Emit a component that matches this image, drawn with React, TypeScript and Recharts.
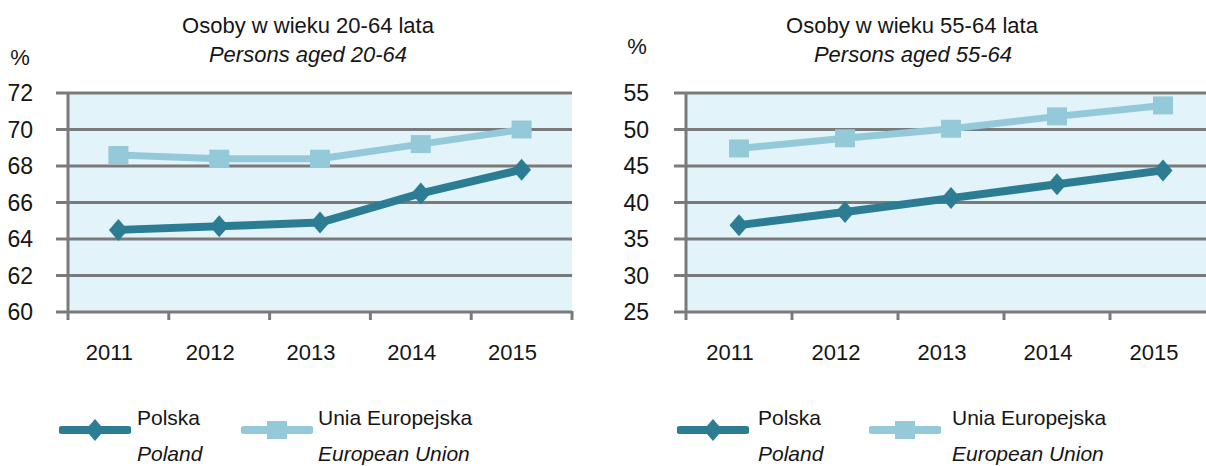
import { LineChart, Line, XAxis, YAxis, CartesianGrid } from "recharts"

// employment rate, %
const years = [2011, 2012, 2013, 2014, 2015]
const poland2064 = [64.5, 64.7, 64.9, 66.5, 67.8]
const eu2064 = [68.6, 68.4, 68.4, 69.2, 70.0]
const poland5564 = [36.9, 38.7, 40.6, 42.5, 44.4]
const eu5564 = [47.4, 48.8, 50.1, 51.8, 53.3]
const ticks2064 = [60, 62, 64, 66, 68, 70, 72]
const ticks5564 = [25, 30, 35, 40, 45, 50, 55]

const DARK = "#2c7d93"
const LIGHT = "#94c9d9"
const GRID = "#7a7a7a"
const BG = "#e3f3fa"
const TEXT = "#151515"
const FONT = '"Liberation Sans", Arial, sans-serif'

// tick positions: category edges (x.5) get a tick mark, whole years get a label
const yearTicks = years.flatMap((y) => [y - 0.5, y]).concat(years[years.length - 1] + 0.5)

const YearTick = (props: any) => {
  const { x, y, payload } = props
  if (payload.value % 1 !== 0) {
    return <line x1={x} y1={y - 1} x2={x} y2={y + 8} stroke={GRID} strokeWidth={3} />
  }
  return (
    <text x={x - 9} y={y + 48} textAnchor="middle" fontSize={22} fill={TEXT} fontFamily={FONT}>
      {payload.value}
    </text>
  )
}

const Diamond = (props: any) => {
  const { cx, cy, index } = props
  return <path key={`d-${index}`} d={`M${cx},${cy - 11}L${cx + 9.5},${cy}L${cx},${cy + 11}L${cx - 9.5},${cy}Z`} fill={DARK} />
}

const Square = (props: any) => {
  const { cx, cy, index } = props
  return <rect key={`s-${index}`} x={cx - 10} y={cy - 9} width={20} height={18} fill={LIGHT} />
}

function Label({ x, y, text, italic, size = 22, anchor = "center" }: any) {
  return (
    <div
      style={{
        position: "absolute",
        left: x,
        top: y,
        transform: anchor === "center" ? "translate(-50%, -50%)" : "translate(0, -50%)",
        fontSize: size,
        lineHeight: 1,
        fontStyle: italic ? "italic" : "normal",
        whiteSpace: "nowrap",
        color: TEXT,
      }}
    >
      {text}
    </div>
  )
}

function LegendItem({ x, textX, label, sub, kind }: any) {
  const color = kind === "diamond" ? DARK : LIGHT
  return (
    <>
      <svg style={{ position: "absolute", left: x, top: 416 }} width={72} height={28}>
        <line x1={3} y1={14} x2={69} y2={14} stroke={color} strokeWidth={8} strokeLinecap="round" />
        {kind === "diamond" ? (
          <path d="M36,3L45.5,14L36,25L26.5,14Z" fill={color} />
        ) : (
          <rect x={26} y={5} width={20} height={18} fill={color} />
        )}
      </svg>
      <Label x={textX} y={417} text={label} size={21} anchor="left" />
      <Label x={textX} y={453} text={sub} size={21} italic anchor="left" />
    </>
  )
}

function Panel({ left, width, axisWidth, plotWidth, tickMargin, poland, eu, ticks }: any) {
  const data = years.map((year, i) => ({ year, poland: poland[i], eu: eu[i] }))
  return (
    <div style={{ position: "absolute", left, top: 0 }}>
      <LineChart width={width} height={400} data={data} margin={{ top: 93, right: width - axisWidth - plotWidth, left: 0, bottom: 48 }}>
        <CartesianGrid vertical={false} fill={BG} stroke={GRID} strokeWidth={3} />
        <XAxis
          dataKey="year"
          type="number"
          domain={[yearTicks[0], yearTicks[yearTicks.length - 1]]}
          ticks={yearTicks}
          interval={0}
          axisLine={false}
          tickLine={false}
          tickSize={0}
          tickMargin={0}
          height={40}
          tick={YearTick}
        />
        <YAxis
          domain={[ticks[0], ticks[ticks.length - 1]]}
          ticks={ticks}
          interval={0}
          width={axisWidth}
          tickSize={12}
          tickMargin={tickMargin}
          axisLine={{ stroke: GRID, strokeWidth: 3 }}
          tickLine={{ stroke: GRID, strokeWidth: 3 }}
          tick={{ fill: TEXT, fontSize: 23, fontFamily: FONT }}
        />
        <Line dataKey="eu" stroke={LIGHT} strokeWidth={7} strokeLinejoin="round" dot={Square} activeDot={false} isAnimationActive={false} />
        <Line dataKey="poland" stroke={DARK} strokeWidth={8} strokeLinejoin="round" dot={Diamond} activeDot={false} isAnimationActive={false} />
      </LineChart>
    </div>
  )
}

export default function App() {
  return (
    <div
      style={{
        position: "absolute",
        left: 0,
        top: 0,
        width: 1206,
        height: 466,
        overflow: "hidden",
        background: "#fff",
        fontFamily: FONT,
      }}
    >
      <Panel left={0} width={600} axisWidth={68} plotWidth={504} tickMargin={23} poland={poland2064} eu={eu2064} ticks={ticks2064} />
      <Panel left={600} width={630} axisWidth={86} plotWidth={530} tickMargin={25} poland={poland5564} eu={eu5564} ticks={ticks5564} />

      <Label x={308} y={26} text="Osoby w wieku 20-64 lata" />
      <Label x={308} y={55} text="Persons aged 20-64" italic />
      <Label x={20} y={58} text="%" />
      <Label x={912} y={26} text="Osoby w wieku 55-64 lata" />
      <Label x={913} y={55} text="Persons aged 55-64" italic />
      <Label x={637} y={47} text="%" />

      <LegendItem x={59} textX={137} label="Polska" sub="Poland" kind="diamond" />
      <LegendItem x={241} textX={318} label="Unia Europejska" sub="European Union" kind="square" />
      <LegendItem x={677} textX={758} label="Polska" sub="Poland" kind="diamond" />
      <LegendItem x={869} textX={952} label="Unia Europejska" sub="European Union" kind="square" />
    </div>
  )
}
